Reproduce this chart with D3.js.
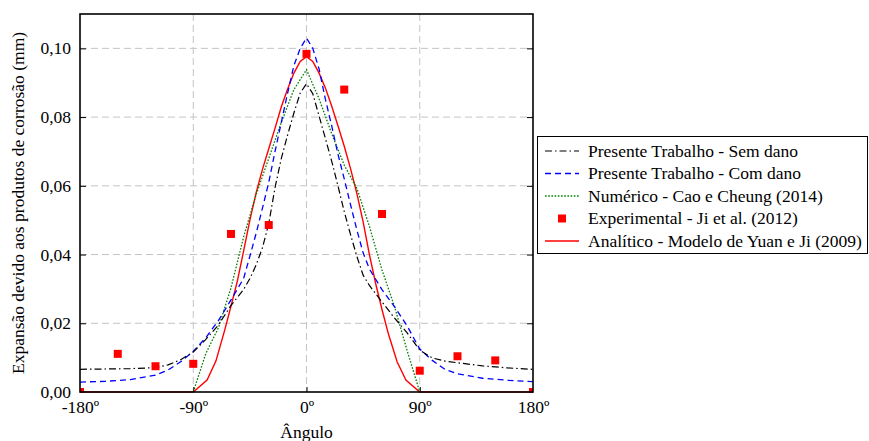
<!DOCTYPE html>
<html>
<head>
<meta charset="utf-8">
<script src="https://cdn.jsdelivr.net/npm/d3@7"></script>
<style>
  html, body { margin: 0; padding: 0; background: #fff; }
  svg { display: block; }
</style>
</head>
<body>
<svg id="chart" width="869" height="441"></svg>
<script>
// Axis ticks
const xTicks = [-180, -90, 0, 90, 180];
const xTickLabels = ["-180º", "-90º", "0º", "90º", "180º"];
const yTicks = [0, 0.02, 0.04, 0.06, 0.08, 0.10];
const yTickLabels = ["0,00", "0,02", "0,04", "0,06", "0,08", "0,10"];

// Present work (without / with damage), sampled on a common angle grid
const presenteAngles = [-180, -160, -140, -120, -110, -100, -90, -80, -70, -60, -50, -45, -40, -35, -30, -25, -20, -15, -10, -5,
                        0, 5, 10, 15, 20, 25, 30, 35, 40, 45, 50, 60, 70, 80, 90, 100, 110, 120, 140, 160, 180];
const semDano = [0.0066, 0.0067, 0.0068, 0.0071, 0.0079, 0.0094, 0.0116, 0.0153, 0.0195, 0.0252, 0.0298, 0.0330, 0.0370, 0.0420, 0.0490, 0.0595, 0.0680, 0.0748, 0.0812, 0.0870,
                 0.0897, 0.0868, 0.0803, 0.0738, 0.0672, 0.0600, 0.0525, 0.0458, 0.0395, 0.0340, 0.0310, 0.0262, 0.0215, 0.0172, 0.0122, 0.0099, 0.0090, 0.0085, 0.0076, 0.0070, 0.0066];
const comDano = [0.0029, 0.0031, 0.0036, 0.0049, 0.0064, 0.0088, 0.0118, 0.0158, 0.0208, 0.0268, 0.0330, 0.0395, 0.0462, 0.0535, 0.0610, 0.0700, 0.0785, 0.0870, 0.0950, 0.1000,
                 0.1030, 0.1000, 0.0940, 0.0852, 0.0775, 0.0692, 0.0620, 0.0545, 0.0472, 0.0405, 0.0358, 0.0298, 0.0248, 0.0192, 0.0125, 0.0092, 0.0066, 0.0053, 0.0040, 0.0034, 0.0030];

// Numerical model (Cao & Cheung 2014)
const numericoAngles = [-90, -80, -70, -60, -50, -40, -30, -20, -10, 0, 10, 20, 30, 40, 50, 60, 70, 80, 90];
const numerico = [0, 0.0112, 0.0187, 0.0303, 0.0451, 0.0575, 0.0680, 0.0785, 0.0880, 0.0938, 0.0853, 0.0752, 0.0660, 0.0593, 0.0482, 0.0355, 0.0248, 0.0120, 0];

// Experimental (Ji et al. 2012)
const experimentalAngles = [-180, -150, -120, -90, -60, -30, 0, 30, 60, 90, 120, 150, 180];
const experimental = [0, 0.0111, 0.0075, 0.0082, 0.0460, 0.0486, 0.0984, 0.0880, 0.0518, 0.0062, 0.0104, 0.0092, 0];

// Analytical model (Yuan & Ji 2009)
const analiticoAngles = [-180, -90, -79, -72, -65, -60, -55, -50, -45, -40, -35, -30, -25, -20, -15, -10, -5,
                         0, 5, 10, 15, 20, 25, 30, 35, 40, 45, 50, 55, 60, 65, 72, 79, 90, 180];
const analitico = [0, 0, 0.0035, 0.0090, 0.0180, 0.0250, 0.0322, 0.0410, 0.0500, 0.0580, 0.0648, 0.0708, 0.0768, 0.0830, 0.0882, 0.0928, 0.0962,
                   0.0976, 0.0962, 0.0928, 0.0885, 0.0832, 0.0775, 0.0715, 0.0650, 0.0578, 0.0495, 0.0400, 0.0315, 0.0240, 0.0170, 0.0088, 0.0035, 0, 0];

const legendLabels = [
  "Presente Trabalho - Sem dano",
  "Presente Trabalho - Com dano",
  "Numérico - Cao e Cheung (2014)",
  "Experimental - Ji et al. (2012)",
  "Analítico - Modelo de Yuan e Ji (2009)"
];

const FONT_FAMILY = '"Liberation Serif", serif';
const FONT = "17.5px";
const serif = sel => sel.style("font-family", FONT_FAMILY).style("font-size", FONT).style("fill", "#000");

const svg = d3.select("#chart");
const plot = { left: 80, right: 533, top: 14, bottom: 392 };

const x = d3.scaleLinear().domain([-180, 180]).range([plot.left, plot.right]);
const y = d3.scaleLinear().domain([0, 0.11]).range([plot.bottom, plot.top]);

// Grid lines
const grid = svg.append("g").attr("stroke", "#c4c4c4").attr("stroke-width", 1).attr("stroke-dasharray", "7,4");
grid.selectAll("line.gy").data(yTicks.filter(d => d > 0)).join("line")
  .attr("x1", plot.left).attr("x2", plot.right)
  .attr("y1", d => y(d)).attr("y2", d => y(d));
grid.selectAll("line.gx").data(xTicks.filter(d => d > -180 && d < 180)).join("line")
  .attr("y1", plot.top).attr("y2", plot.bottom)
  .attr("x1", d => x(d)).attr("x2", d => x(d));

// Axes (ticks pointing inward)
const xAxis = d3.axisBottom(x).tickValues(xTicks).tickSizeInner(-5).tickSizeOuter(0)
  .tickPadding(9).tickFormat((d, i) => xTickLabels[i]);
const gx = svg.append("g").attr("transform", `translate(0,${plot.bottom})`).call(xAxis);
const yAxis = d3.axisLeft(y).tickValues(yTicks).tickSizeInner(-6).tickSizeOuter(0)
  .tickPadding(9).tickFormat((d, i) => yTickLabels[i]);
const gy = svg.append("g").attr("transform", `translate(${plot.left},0)`).call(yAxis);
const yAxisR = d3.axisRight(y).tickValues(yTicks).tickSizeInner(-6).tickSizeOuter(0).tickFormat("");
const gyr = svg.append("g").attr("transform", `translate(${plot.right},0)`).call(yAxisR);

[gx, gy, gyr].forEach(g => {
  g.select(".domain").remove();
  g.selectAll(".tick line").attr("stroke", "#000").attr("stroke-width", 1);
  g.selectAll(".tick text").call(serif);
});
gx.selectAll(".tick line").filter(d => d === -180 || d === 180).remove();
gy.selectAll(".tick line").filter(d => d === 0).remove();
gyr.selectAll(".tick line").filter(d => d === 0).remove();

// Data, clipped to the plotting area
svg.append("clipPath").attr("id", "clip").append("rect")
  .attr("x", plot.left).attr("y", plot.top - 1)
  .attr("width", plot.right - plot.left).attr("height", plot.bottom - plot.top + 2);
const data = svg.append("g").attr("clip-path", "url(#clip)");

const lineOf = (angles, vals) => d3.line().x((d, i) => x(angles[i])).y(d => y(d))(vals);

const styles = [
  { stroke: "#000000", dash: "7,3,1.5,3", width: 1.2 },
  { stroke: "#0000ff", dash: "6,4", width: 1.3 },
  { stroke: "#008000", dash: "1.6,1.6", width: 1.3 },
  null,
  { stroke: "#ff0000", dash: null, width: 1.4 }
];

data.append("path").attr("d", lineOf(analiticoAngles, analitico))
  .attr("fill", "none").attr("stroke", styles[4].stroke).attr("stroke-width", styles[4].width);
data.append("path").attr("d", lineOf(numericoAngles, numerico))
  .attr("fill", "none").attr("stroke", styles[2].stroke).attr("stroke-width", styles[2].width)
  .attr("stroke-dasharray", styles[2].dash);
data.append("path").attr("d", lineOf(presenteAngles, comDano))
  .attr("fill", "none").attr("stroke", styles[1].stroke).attr("stroke-width", styles[1].width)
  .attr("stroke-dasharray", styles[1].dash);
data.append("path").attr("d", lineOf(presenteAngles, semDano))
  .attr("fill", "none").attr("stroke", styles[0].stroke).attr("stroke-width", styles[0].width)
  .attr("stroke-dasharray", styles[0].dash);

const SQ = 8;
data.selectAll("rect.exp").data(experimental).join("rect")
  .attr("x", (d, i) => x(experimentalAngles[i]) - SQ / 2)
  .attr("y", d => y(d) - SQ / 2)
  .attr("width", SQ).attr("height", SQ).attr("fill", "#ff0000");

// Frame
svg.append("rect").attr("x", plot.left).attr("y", plot.top)
  .attr("width", plot.right - plot.left).attr("height", plot.bottom - plot.top)
  .attr("fill", "none").attr("stroke", "#000").attr("stroke-width", 1.6);

// Axis titles
svg.append("text").attr("x", x(0)).attr("y", 438).attr("text-anchor", "middle")
  .call(serif).text("Ângulo");
svg.append("text").attr("transform", `translate(24,${(plot.top + plot.bottom) / 2}) rotate(-90)`)
  .attr("text-anchor", "middle").call(serif)
  .text("Expansão devido aos produtos de corrosão (mm)");

// Legend
const lg = svg.append("g");
lg.append("rect").attr("x", 537.5).attr("y", 136.5).attr("width", 330).attr("height", 117)
  .attr("fill", "#fff").attr("stroke", "#000").attr("stroke-width", 1);
const rowY = i => 151 + i * 22.5;
legendLabels.forEach((lab, i) => {
  const yy = rowY(i);
  if (i === 3) {
    lg.append("rect").attr("x", 562 - SQ / 2).attr("y", yy - SQ / 2)
      .attr("width", SQ).attr("height", SQ).attr("fill", "#ff0000");
  } else {
    const s = styles[i];
    lg.append("line").attr("x1", 545).attr("x2", 579).attr("y1", yy).attr("y2", yy)
      .attr("stroke", s.stroke).attr("stroke-width", s.width)
      .attr("stroke-dasharray", s.dash);
  }
  lg.append("text").attr("x", 588).attr("y", yy).attr("dy", "0.34em").call(serif).text(lab);
});
</script>
</body>
</html>
